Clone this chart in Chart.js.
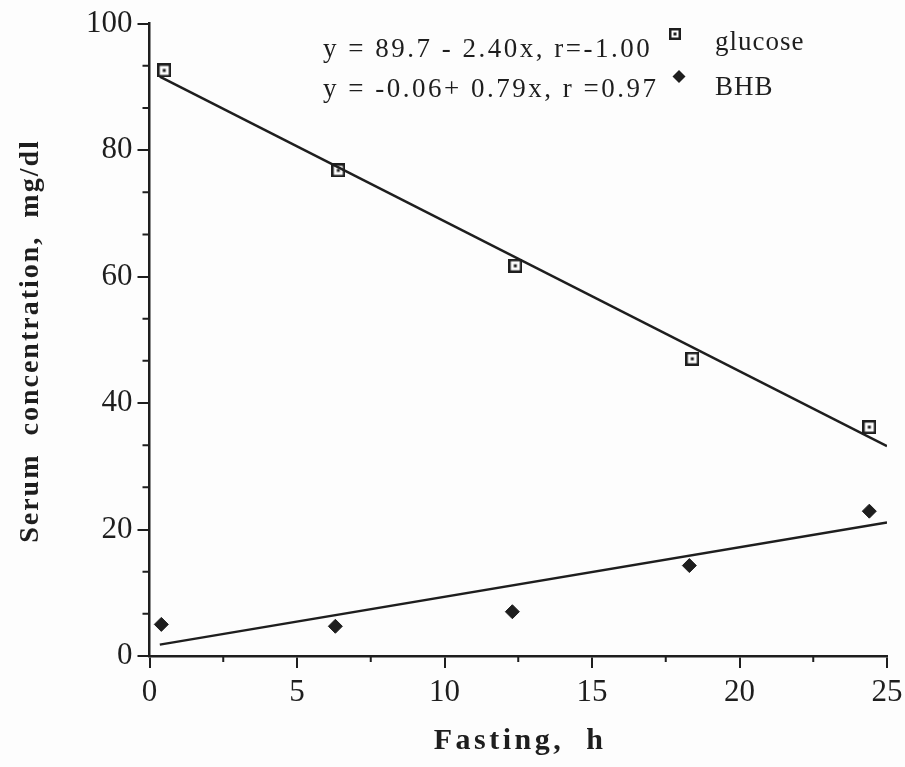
<!DOCTYPE html>
<html>
<head>
<meta charset="utf-8">
<script src="https://cdn.jsdelivr.net/npm/chart.js@4/dist/chart.umd.min.js"></script>
<style>
  html, body { margin: 0; padding: 0; background: #fdfdfd; }
  #wrap { width: 905px; height: 767px; position: relative; }
</style>
</head>
<body>
<div id="wrap"><canvas id="c"></canvas></div>
<script>
// values
const glucoseHours = [0.5, 6.4, 12.4, 18.4, 24.4];
const glucoseValues = [92.6, 76.8, 61.7, 47.0, 36.2];
const bhbHours = [0.4, 6.3, 12.3, 18.3, 24.4];
const bhbValues = [5.0, 4.7, 7.0, 14.3, 22.9];

// regression lines as drawn (end points)
const glucoseFitHours = [0.35, 25];
const glucoseFitValues = [91.6, 33.2];
const bhbFitHours = [0.35, 25];
const bhbFitValues = [1.8, 21.1];

const xMinorTicks = [2.5, 7.5, 12.5, 17.5, 22.5];
const yMinorTicks = [6.67, 13.33, 26.67, 33.33, 46.67, 53.33, 66.67, 73.33, 86.67, 93.33];

const legendLines = ['y = 89.7 - 2.40x, r=-1.00', 'y = -0.06+ 0.79x, r =0.97'];
const legendNames = ['glucose', 'BHB'];
const xTitle = 'Fasting,  h';
const yTitle = 'Serum  concentration,  mg/dl';

const INK = '#1e1e1e';
const SERIF = '"Liberation Serif", "Times New Roman", serif';

function squareMarker(size) {
  const cv = document.createElement('canvas');
  cv.width = size; cv.height = size;
  const g = cv.getContext('2d');
  g.fillStyle = INK;
  g.fillRect(0, 0, size, size);
  g.fillStyle = '#fdfdfd';
  g.fillRect(2.5, 2.5, size - 5, size - 5);
  g.fillStyle = INK;
  const d = 3;
  g.fillRect((size - d) / 2, (size - d) / 2, d, d);
  return cv;
}
const sqBig = squareMarker(14);
const sqSmall = squareMarker(12);

const toXY = (xs, ys) => xs.map((x, i) => ({ x, y: ys[i] }));

const decor = {
  id: 'decor',
  afterDraw(chart) {
    const ctx = chart.ctx;
    const xs = chart.scales.x, ys = chart.scales.y;
    ctx.save();
    ctx.strokeStyle = INK;
    ctx.lineWidth = 2;
    // minor ticks
    ctx.beginPath();
    xMinorTicks.forEach(v => {
      const px = xs.getPixelForValue(v);
      ctx.moveTo(px, ys.bottom);
      ctx.lineTo(px, ys.bottom + 6);
    });
    yMinorTicks.forEach(v => {
      const py = ys.getPixelForValue(v);
      ctx.moveTo(xs.left, py);
      ctx.lineTo(xs.left - 7, py);
    });
    ctx.stroke();

    // equations + legend
    ctx.fillStyle = INK;
    ctx.font = '27px ' + SERIF;
    ctx.textBaseline = 'alphabetic';
    ctx.letterSpacing = '2.5px';
    ctx.fillText(legendLines[0], 323, 57);
    ctx.fillText(legendLines[1], 323, 97);
    ctx.letterSpacing = '1px';
    ctx.fillText(legendNames[0], 715, 50);
    ctx.fillText(legendNames[1], 715, 95);
    ctx.drawImage(sqSmall, 675 - 6, 34 - 6);
    ctx.beginPath();
    ctx.moveTo(679, 70); ctx.lineTo(685.5, 76.5); ctx.lineTo(679, 83); ctx.lineTo(672.5, 76.5);
    ctx.closePath();
    ctx.fill();

    // axis titles
    ctx.textAlign = 'center';
    ctx.textBaseline = 'middle';
    ctx.font = 'bold 30px ' + SERIF;
    ctx.letterSpacing = '3.5px';
    ctx.fillText(xTitle, 520, 741);
    ctx.font = 'bold 28px ' + SERIF;
    ctx.letterSpacing = '2px';
    ctx.translate(31, 341);
    ctx.rotate(-Math.PI / 2);
    ctx.fillText(yTitle, 0, 0);
    ctx.restore();
  }
};

new Chart(document.getElementById('c'), {
  type: 'scatter',
  data: {
    datasets: [
      {
        label: 'glucose fit',
        type: 'line',
        data: toXY(glucoseFitHours, glucoseFitValues),
        borderColor: INK,
        borderWidth: 2.5,
        pointRadius: 0,
        fill: false
      },
      {
        label: 'BHB fit',
        type: 'line',
        data: toXY(bhbFitHours, bhbFitValues),
        borderColor: INK,
        borderWidth: 2.5,
        pointRadius: 0,
        fill: false
      },
      {
        label: 'glucose',
        data: toXY(glucoseHours, glucoseValues),
        pointStyle: sqBig,
        pointRadius: 7
      },
      {
        label: 'BHB',
        data: toXY(bhbHours, bhbValues),
        pointStyle: 'rectRot',
        pointRadius: 7,
        backgroundColor: INK,
        borderColor: INK,
        borderWidth: 1
      }
    ]
  },
  options: {
    responsive: true,
    maintainAspectRatio: false,
    animation: false,
    layout: { padding: { top: 21, right: 0, left: 0, bottom: 0 } },
    plugins: {
      legend: { display: false },
      tooltip: { enabled: false }
    },
    scales: {
      x: {
        type: 'linear',
        min: 0,
        max: 25,
        afterFit: s => { s.height = 111; s.paddingRight = 18; s.paddingLeft = 0; },
        border: { display: true, color: INK, width: 2.5 },
        grid: { drawOnChartArea: false, drawTicks: true, tickLength: 12, color: INK, lineWidth: 2 },
        ticks: { stepSize: 5, color: INK, padding: 6, font: { family: SERIF, size: 31 } }
      },
      y: {
        min: 0,
        max: 100,
        afterFit: s => { s.width = 149.5; },
        border: { display: true, color: INK, width: 2.5 },
        grid: { drawOnChartArea: false, drawTicks: true, tickLength: 12, color: INK, lineWidth: 2 },
        ticks: { stepSize: 20, color: INK, padding: 5, font: { family: SERIF, size: 31 } }
      }
    }
  },
  plugins: [decor]
});
</script>
</body>
</html>
